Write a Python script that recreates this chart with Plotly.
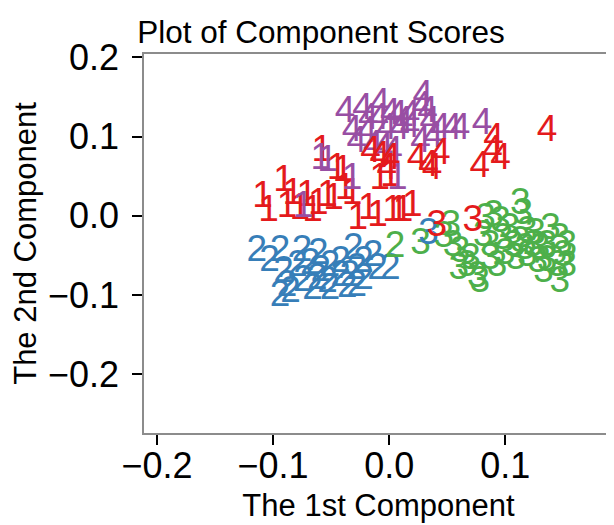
import plotly.graph_objects as go

# ---- data (component scores) ----
red1_x = [-0.109, -0.104, -0.091, -0.088, -0.083, -0.077, -0.071, -0.066, -0.058, -0.053,
          -0.048, -0.045, -0.040, -0.038, -0.032, -0.027, -0.018, -0.010, -0.008, 0.001,
          0.003, 0.008, 0.012, 0.020, -0.061]
red1_y = [0.023, 0.005, 0.043, 0.010, 0.026, 0.008, 0.024, 0.005, 0.081, 0.024,
          0.020, 0.058, 0.055, 0.033, 0.026, -0.005, 0.008, -0.001, 0.045, 0.049,
          0.005, 0.005, 0.005, 0.011, 0.014]

purple1_x = [-0.059, -0.053, -0.032, 0.007, -0.074]
purple1_y = [0.071, 0.068, 0.045, 0.045, 0.010]

red4_x = [0.136, 0.090, 0.089, 0.096, 0.078, 0.044, 0.034, 0.024, 0.037, -0.016, -0.008, 0.001, -0.002]
red4_y = [0.106, 0.096, 0.081, 0.071, 0.061, 0.077, 0.062, 0.071, 0.058, 0.079, 0.073, 0.071, 0.058]

purple4_x = [-0.038, -0.032, -0.028, -0.008, -0.009, 0.001, 0.007, 0.012, -0.002, 0.009,
             0.018, 0.029, 0.028, 0.033, 0.035, 0.027, 0.038, 0.044, 0.054, 0.061,
             0.080, -0.014, -0.005, 0.003, -0.019, 0.018, -0.023, -0.018]
purple4_y = [0.130, 0.106, 0.092, 0.140, 0.121, 0.127, 0.125, 0.117, 0.108, 0.108,
             0.111, 0.150, 0.137, 0.130, 0.117, 0.092, 0.098, 0.108, 0.108, 0.108,
             0.115, 0.087, 0.083, 0.079, 0.105, 0.125, 0.134, 0.121]

blue2_x = [-0.114, -0.094, -0.075, -0.061, -0.031, -0.014, 0.001, -0.091, -0.079, -0.068,
           -0.051, -0.042, -0.022, -0.010, -0.088, -0.085, -0.066, -0.062, -0.053, -0.042,
           -0.034, -0.028, -0.022, -0.036, -0.094, -0.051, -0.074, -0.059, -0.028, -0.103]
blue2_y = [-0.045, -0.045, -0.045, -0.049, -0.043, -0.052, -0.068, -0.072, -0.064, -0.062,
           -0.064, -0.059, -0.059, -0.068, -0.090, -0.097, -0.093, -0.081, -0.084, -0.077,
           -0.077, -0.090, -0.081, -0.091, -0.102, -0.093, -0.083, -0.071, -0.068, -0.058]

blue3_x = [0.034]
blue3_y = [-0.024]

green2_x = [0.005]
green2_y = [-0.040]

red3_x = [0.041, 0.072]
red3_y = [-0.014, -0.008]

green3_x = [0.027, 0.047, 0.055, 0.061, 0.060, 0.070, 0.076, 0.078, 0.067, 0.083,
            0.090, 0.096, 0.087, 0.087, 0.093, 0.104, 0.113, 0.115, 0.107, 0.113,
            0.119, 0.124, 0.119, 0.128, 0.136, 0.133, 0.145, 0.147, 0.139, 0.147,
            0.153, 0.150, 0.153, 0.136, 0.098, 0.081, 0.053, 0.126, 0.130, 0.117,
            0.109, 0.100]
green3_y = [-0.037, -0.028, -0.039, -0.047, -0.068, -0.055, -0.078, -0.084, -0.064, -0.005,
            -0.001, -0.009, -0.039, -0.055, -0.064, -0.018, 0.014, 0.001, -0.039, -0.034,
            -0.021, -0.039, -0.052, -0.059, -0.058, -0.072, -0.064, -0.084, -0.018, -0.030,
            -0.039, -0.052, -0.064, -0.039, -0.030, -0.026, -0.014, -0.024, -0.043, -0.043,
            -0.055, -0.049]

x_ticks = [-0.2, -0.1, 0.0, 0.1]
y_ticks = [-0.2, -0.1, 0.0, 0.1, 0.2]

RED, BLUE, GREEN, PURPLE = "#E41A1C", "#377EB8", "#4DAF4A", "#984EA3"
FONT = "Liberation Sans, Arial, sans-serif"

groups = [
    (red1_x, red1_y, "1", RED),
    (purple1_x, purple1_y, "1", PURPLE),
    (blue2_x, blue2_y, "2", BLUE),
    (green2_x, green2_y, "2", GREEN),
    (green3_x, green3_y, "3", GREEN),
    (blue3_x, blue3_y, "3", BLUE),
    (red3_x, red3_y, "3", RED),
    (purple4_x, purple4_y, "4", PURPLE),
    (red4_x, red4_y, "4", RED),
]

fig = go.Figure()
for xs, ys, lab, col in groups:
    fig.add_trace(go.Scatter(
        x=xs, y=ys, mode="text", text=[lab] * len(xs),
        textposition="middle center",
        textfont=dict(family=FONT, size=37, color=col),
        showlegend=False, hoverinfo="x+y",
    ))

axis_common = dict(
    showgrid=False, zeroline=False, automargin=False,
    showline=True, linecolor="#8c8c8c", linewidth=1.5, mirror=True,
    ticks="outside", ticklen=10, tickwidth=2, tickcolor="black",
    tickfont=dict(family=FONT, size=36, color="black"),
    tickformat=".1f",
)

# page body has an 8px margin, so layout values are offset by 8px
fig.update_layout(
    width=614, height=525,
    margin=dict(l=136, r=9, t=46, b=100, autoexpand=False),
    paper_bgcolor="white", plot_bgcolor="white",
    title=dict(text="Plot of Component Scores", x=313 / 614, xanchor="center",
               xref="container",
               y=1 - 23.5 / 525, yanchor="middle", yref="container",
               font=dict(family=FONT, size=31.5, color="black")),
    xaxis=dict(range=[-0.2112, 0.1928], tickvals=x_ticks, ticklabelstandoff=-10,
               title=dict(text="The 1st Component", standoff=9,
                          font=dict(family=FONT, size=31, color="black")),
               **axis_common),
    yaxis=dict(range=[-0.2744, 0.2043], tickvals=y_ticks, ticklabelstandoff=6,
               title=dict(text="The 2nd Component", standoff=9,
                          font=dict(family=FONT, size=31, color="black")),
               **axis_common),
)

fig.write_html("out.html")
